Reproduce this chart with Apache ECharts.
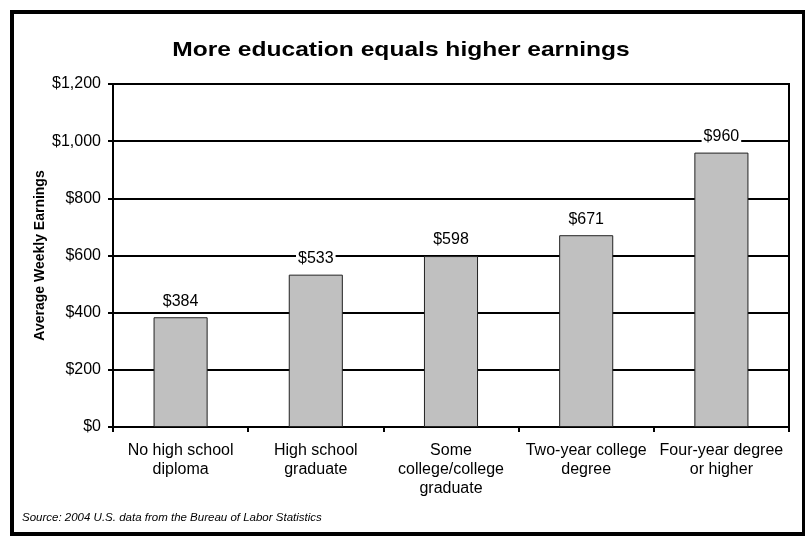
<!DOCTYPE html>
<html>
<head>
<meta charset="utf-8">
<script src="https://cdn.jsdelivr.net/npm/echarts@6/dist/echarts.min.js"></script>
<style>
  html, body { margin: 0; padding: 0; background: #fff; }
  #chart { width: 805px; height: 536px; }
</style>
</head>
<body>
<div id="chart"></div>
<script>
// Education levels and average weekly earnings (USD)
const categories = [
  'No high school\ndiploma',
  'High school\ngraduate',
  'Some\ncollege/college\ngraduate',
  'Two-year college\ndegree',
  'Four-year degree\nor higher'
];
const earnings = [384, 533, 598, 671, 960];
const yTicks = [0, 200, 400, 600, 800, 1000, 1200];

const titleText = 'More education equals higher earnings';
const yAxisTitle = 'Average Weekly Earnings';
const sourceText = 'Source: 2004 U.S. data from the Bureau of Labor Statistics';

const fontFamily = '"Liberation Sans", Arial, sans-serif';

function dollars(v) {
  return '$' + v.toLocaleString('en-US');
}

const chart = echarts.init(document.getElementById('chart'), null, { renderer: 'canvas' });

chart.setOption({
  backgroundColor: '#ffffff',
  animation: false,
  graphic: [
    {
      type: 'rect',
      shape: { x: 12, y: 12, width: 792, height: 522 },
      style: { fill: 'none', stroke: '#000', lineWidth: 4 },
      silent: true
    },
    {
      // wide bold heading
      type: 'text',
      x: 401,
      y: 50,
      scaleX: 1.17,
      style: {
        text: titleText,
        font: 'bold 21px ' + fontFamily,
        fill: '#000',
        align: 'center',
        verticalAlign: 'middle'
      },
      silent: true
    },
    {
      type: 'text',
      left: 22,
      top: 512,
      style: {
        text: sourceText,
        font: 'italic 11.5px ' + fontFamily,
        fill: '#000'
      }
    }
  ],
  grid: {
    left: 113,
    right: 16,
    top: 84,
    bottom: 109,
    show: true,
    borderColor: '#000',
    borderWidth: 2,
    backgroundColor: 'transparent'
  },
  xAxis: {
    type: 'category',
    data: categories,
    axisLine: { show: true, lineStyle: { color: '#000', width: 2 } },
    axisTick: { show: true, length: 5, lineStyle: { color: '#000', width: 2 } },
    axisLabel: {
      interval: 0,
      margin: 14,
      fontFamily,
      fontSize: 16,
      lineHeight: 19,
      color: '#000'
    }
  },
  yAxis: {
    type: 'value',
    min: yTicks[0],
    max: yTicks[yTicks.length - 1],
    interval: yTicks[1] - yTicks[0],
    name: yAxisTitle,
    nameLocation: 'middle',
    nameGap: 66,
    nameMoveOverlap: false,
    nameTextStyle: { fontFamily, fontSize: 14, fontWeight: 'bold', color: '#000' },
    axisLine: { show: true, lineStyle: { color: '#000', width: 2 } },
    axisTick: { show: true, length: 5, lineStyle: { color: '#000', width: 2 } },
    splitLine: { show: true, lineStyle: { color: '#000', width: 2 } },
    axisLabel: {
      margin: 12,
      fontFamily,
      fontSize: 16,
      color: '#000',
      formatter: dollars
    }
  },
  series: [
    {
      type: 'bar',
      data: earnings,
      barWidth: '40%',
      itemStyle: { color: '#C0C0C0', borderColor: '#222', borderWidth: 1 },
      label: {
        show: true,
        position: 'top',
        distance: 8,
        fontFamily,
        fontSize: 16,
        color: '#000',
        backgroundColor: '#fff',
        padding: [0, 2],
        formatter: p => dollars(p.value)
      }
    }
  ]
});
</script>
</body>
</html>
